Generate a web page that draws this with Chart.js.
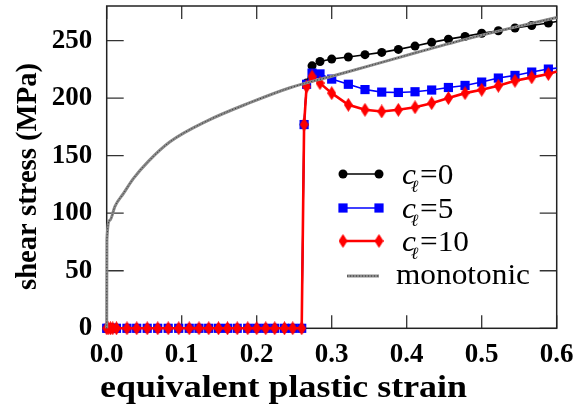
<!DOCTYPE html>
<html><head><meta charset="utf-8">
<script src="https://cdn.jsdelivr.net/npm/chart.js@4"></script>
<style>html,body{margin:0;padding:0;background:#fff;}#wrap{width:576px;height:410px;}</style>
</head><body><div id="wrap"><canvas id="c" width="576" height="410"></canvas></div>
<script>
// ---- data ----
const strain = [0, 0.002, 0.005, 0.008, 0.013, 0.027, 0.040, 0.054, 0.068, 0.082, 0.096, 0.110, 0.123, 0.136, 0.149, 0.161, 0.174, 0.188, 0.200, 0.212, 0.224, 0.237, 0.248, 0.260,
  0.2632, 0.2665, 0.2738, 0.2844, 0.3000, 0.3222, 0.3444, 0.3667, 0.3889, 0.4111, 0.4333, 0.4556, 0.4778, 0.5000, 0.5222, 0.5444, 0.5667, 0.5889, 0.6000];
const stressC0 = [0,0,0,0,0,0,0,0,0,0,0,0,0,0,0,0,0,0,0,0,0,0,0,0,
  177, 213, 228, 231.8, 233.9, 235.7, 237.7, 239.7, 242.3, 245.2, 248.4, 251.2, 253.6, 256.3, 258.5, 260.9, 263.1, 265.2, 266.6];
const stressC5 = [0,0,0,0,0,0,0,0,0,0,0,0,0,0,0,0,0,0,0,0,0,0,0,0,
  177, 212, 221.7, 221, 216.5, 212, 207.4, 205.2, 204.9, 205.5, 207, 209.2, 211, 213.9, 217.4, 219.7, 222.6, 225.2, 226];
const stressC10 = [0,0,0,0,0,0,0,0,0,0,0,0,0,0,0,0,0,0,0,0,0,0,0,0,
  177, 210, 218.8, 213, 204.3, 194.2, 189.8, 188.4, 189.8, 192, 195.6, 200, 204.3, 207.2, 210.7, 215, 218, 220.9, 223];
const monoStrain = [0, 0.0003, 0.0044, 0.011, 0.0222, 0.0355, 0.0555, 0.0844, 0.1333, 0.191, 0.2444, 0.3, 0.35, 0.4155, 0.478, 0.54, 0.6];
const monoStress = [0, 77, 94, 106, 117, 130, 145, 162, 180, 196, 209, 219, 228, 240, 251, 261, 270];
const xTicks = [0, 0.1, 0.2, 0.3, 0.4, 0.5, 0.6];
const yTicks = [0, 50, 100, 150, 200, 250];
const legendValues = ['0', '5', '10'];
const monoLabel = 'monotonic';
const xTitle = 'equivalent plastic strain';
const yTitle = 'shear stress (MPa)';

const pts = (xs, ys) => xs.map((x, i) => ({x, y: ys[i]}));
const lastHidden = (n, r) => Array.from({length: n}, (_, i) => i === n - 1 ? 0 : r);

const diamond = (() => {
  const c = document.createElement('canvas'); c.width = 9; c.height = 14;
  const g = c.getContext('2d'); g.fillStyle = '#ff0000';
  g.beginPath(); g.moveTo(4.5, 0); g.lineTo(9, 7); g.lineTo(4.5, 14); g.lineTo(0, 7); g.closePath(); g.fill();
  return c;
})();

const SERIF = "'Liberation Serif', 'Times New Roman', serif";

function fitText(ctx, text, x, y, w, font) {
  ctx.save(); ctx.font = font;
  const m = ctx.measureText(text).width;
  ctx.translate(x, y); ctx.scale(w / m, 1);
  ctx.textAlign = 'left'; ctx.textBaseline = 'alphabetic';
  ctx.fillText(text, 0, 0); ctx.restore();
}

const framePlugin = {
  id: 'frame',
  beforeDatasetsDraw(chart) {
    const {ctx, chartArea: a, scales: {x, y}} = chart;
    ctx.save();
    ctx.strokeStyle = '#333'; ctx.lineWidth = 1.3;
    ctx.beginPath();
    xTicks.forEach(v => { const p = x.getPixelForValue(v);
      ctx.moveTo(p, a.bottom); ctx.lineTo(p, a.bottom - 13);
      ctx.moveTo(p, a.top); ctx.lineTo(p, a.top + 13); });
    yTicks.forEach(v => { const p = y.getPixelForValue(v);
      ctx.moveTo(a.left, p); ctx.lineTo(a.left + 17, p);
      ctx.moveTo(a.right, p); ctx.lineTo(a.right - 17, p); });
    ctx.stroke();
    ctx.strokeStyle = '#222'; ctx.lineWidth = 1.5;
    ctx.strokeRect(a.left, a.top, a.right - a.left, a.bottom - a.top);
    ctx.restore();
  },
  afterDraw(chart) {
    const {ctx} = chart;
    ctx.save(); ctx.fillStyle = '#000';
    fitText(ctx, xTitle, 100, 397, 367, "bold 32px " + SERIF);
    ctx.translate(35.5, 290); ctx.rotate(-Math.PI / 2);
    fitText(ctx, yTitle, 0, 0, 227, "bold 29px " + SERIF);
    ctx.restore();
  }
};

const legendPlugin = {
  id: 'customLegend',
  afterDraw(chart) {
    const {ctx} = chart;
    const rows = [174, 208, 241, 276];
    const x1 = 343, x2 = 379;
    const styles = [
      {c: '#000', w: 1.6, m: 'circle'},
      {c: '#0000ff', w: 1.6, m: 'rect'},
      {c: '#ff0000', w: 2.6, m: 'diamond'}
    ];
    ctx.save();
    ctx.font = "30px " + SERIF;
    const sx = 134 / ctx.measureText(monoLabel).width;
    styles.forEach((s, i) => {
      const yy = rows[i];
      ctx.strokeStyle = s.c; ctx.lineWidth = s.w;
      ctx.beginPath(); ctx.moveTo(x1, yy); ctx.lineTo(x2, yy); ctx.stroke();
      [x1, x2].forEach(px => {
        ctx.fillStyle = s.c;
        if (s.m === 'circle') { ctx.beginPath(); ctx.arc(px, yy, 4.5, 0, 2 * Math.PI); ctx.fill(); }
        else if (s.m === 'rect') { ctx.fillRect(px - 4.6, yy - 4.6, 9.2, 9.2); }
        else { ctx.drawImage(diamond, px - 4.5, yy - 7); }
      });
      ctx.fillStyle = '#000';
      ctx.save(); ctx.translate(402, yy + 9.5); ctx.scale(sx, 1);
      ctx.font = "italic 30px " + SERIF; ctx.textBaseline = 'alphabetic';
      ctx.fillText('c', 0, 0);
      ctx.restore();
      ctx.save(); ctx.translate(411, yy + 18); ctx.scale(sx, 1);
      ctx.font = "italic 17px " + SERIF; ctx.fillText('\u2113', 0, 0);
      ctx.restore();
      ctx.save(); ctx.translate(420, yy + 9.5); ctx.scale(sx, 1);
      ctx.font = "30px " + SERIF; ctx.fillText('=' + legendValues[i], 0, 0);
      ctx.restore();
    });
    const ym = rows[3];
    ctx.strokeStyle = '#8a8a8a'; ctx.lineWidth = 3;
    ctx.beginPath(); ctx.moveTo(347, ym); ctx.lineTo(379, ym); ctx.stroke();
    ctx.strokeStyle = '#333'; ctx.lineWidth = 1; ctx.setLineDash([1, 2]);
    ctx.beginPath(); ctx.moveTo(347, ym); ctx.lineTo(379, ym); ctx.stroke();
    ctx.setLineDash([]);
    ctx.fillStyle = '#000';
    fitText(ctx, monoLabel, 396, ym + 8, 134, "30px " + SERIF);
    ctx.restore();
  }
};

const zeroPad = s => { s.paddingTop = 0; s.paddingBottom = 0; s.paddingLeft = 0; s.paddingRight = 0; };

const n = strain.length;
new Chart(document.getElementById('c'), {
  type: 'scatter',
  data: {
    datasets: [
      {label: 'c0', data: pts(strain, stressC0), showLine: true, borderColor: '#000', backgroundColor: '#000', borderWidth: 1.6,
       pointStyle: 'circle', pointRadius: lastHidden(n, 4.5), pointBorderWidth: 0, tension: 0, clip: false, order: 4},
      {label: 'c5', data: pts(strain, stressC5), showLine: true, borderColor: '#0000ff', backgroundColor: '#0000ff', borderWidth: 1.6,
       pointStyle: 'rect', pointRadius: lastHidden(n, 6.5), pointBorderWidth: 0, tension: 0, clip: false, order: 3},
      {label: 'c10', data: pts(strain, stressC10), showLine: true, borderColor: '#ff0000', backgroundColor: '#ff0000', borderWidth: 2.6,
       pointStyle: diamond, pointRadius: lastHidden(n, 5), pointBorderWidth: 0, tension: 0, clip: false, order: 2},
      {label: 'mono', data: pts(monoStrain, monoStress), showLine: true, borderColor: '#8a8a8a', borderWidth: 3,
       pointRadius: 0, cubicInterpolationMode: 'monotone', clip: false, order: 1},
      {label: 'monoDash', data: pts(monoStrain, monoStress), showLine: true, borderColor: '#333', borderWidth: 1, borderDash: [1, 2],
       pointRadius: 0, cubicInterpolationMode: 'monotone', clip: false, order: 0}
    ]
  },
  options: {
    responsive: false, devicePixelRatio: 1, animation: false, events: [],
    layout: {autoPadding: false, padding: {top: 6, right: 19.3, left: 0, bottom: 0}},
    plugins: {legend: {display: false}, tooltip: {enabled: false}},
    scales: {
      x: {
        type: 'linear', min: 0, max: 0.6,
        afterBuildTicks: s => { s.ticks = xTicks.map(v => ({value: v})); },
        afterFit: s => { s.height = 81.7; zeroPad(s); },
        grid: {display: false, drawTicks: false}, border: {display: false},
        ticks: {callback: v => v.toFixed(1), color: '#000', padding: 10.5, maxRotation: 0, autoSkip: false,
                font: {family: SERIF, weight: 'bold', size: 27}}
      },
      y: {
        type: 'linear', min: 0, max: 280,
        afterBuildTicks: s => { s.ticks = yTicks.map(v => ({value: v})); },
        afterFit: s => { s.width = 106.7; zeroPad(s); },
        grid: {display: false, drawTicks: false}, border: {display: false},
        ticks: {callback: v => String(v), color: '#000', padding: 14.5, autoSkip: false,
                font: {family: SERIF, weight: 'bold', size: 27}}
      }
    }
  },
  plugins: [framePlugin, legendPlugin]
});
</script>
</body></html>
